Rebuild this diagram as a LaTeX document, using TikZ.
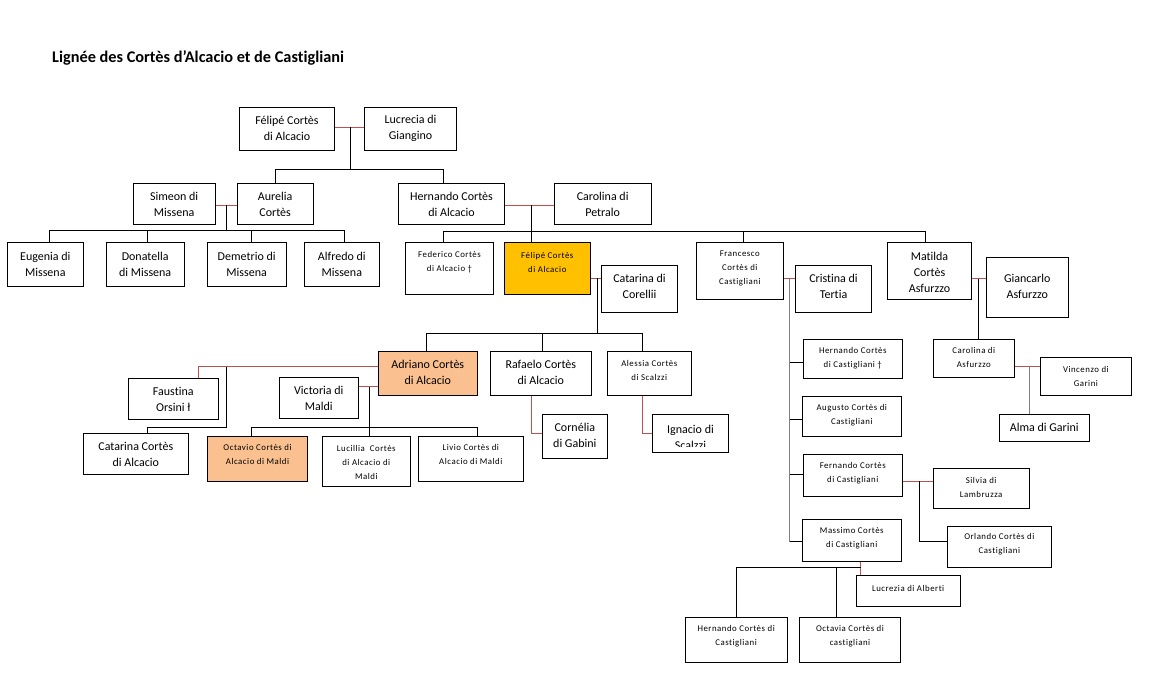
\documentclass[tikz,border=0pt]{standalone}
\usepackage{fontspec}
\setmainfont{Carlito}[Ligatures=NoCommon]
\newfontfamily\smallfnt[LetterSpace=6,Ligatures=NoCommon]{Carlito}
\definecolor{wedred}{RGB}{192,80,77}
\definecolor{yel}{RGB}{255,192,0}
\definecolor{org}{RGB}{250,192,143}
\definecolor{lgrey}{RGB}{128,128,128}
\tikzset{
  pbox/.style={draw=black, line width=1pt, inner sep=0pt, rectangle},
  nt/.style={font={\fontsize{12}{16}\selectfont}, align=center, inner sep=0pt},
  st/.style={font={\smallfnt\fontsize{8.8}{14}\selectfont}, align=center, inner sep=0pt},
  link/.style={draw=black, line width=0.9pt},
  wed/.style={draw=wedred, line width=0.9pt},
  greyl/.style={draw=lgrey, line width=0.9pt},
}
\newcommand\pbx[9]{%
  \node[pbox,#6,minimum width={#4-#2},minimum height={#5-#3}] (#1) at ({(#2+#4)/2},{(#3+#5)/2}) {};
  \node[#7] (#1t) at ({(#2+#4)/2},#8) {#9};
}
\begin{document}
\begin{tikzpicture}[x=1pt,y=-1pt]
\fill[white] (0,0) rectangle (1175,681);
\useasboundingbox (0,0) rectangle (1175,681);

\node[anchor=base west, font={\bfseries\fontsize{16.3}{19}\selectfont}, inner sep=0pt] (title) at (52,62.7) {Lignée des Cortès d’Alcacio et de Castigliani};

\pbx{F0}{239.3}{107.3}{334.7}{150.3}{}{nt}{128}{Félipé Cortès\\di Alcacio}
\pbx{L0}{364.3}{107.3}{456.7}{150.3}{}{nt}{128}{Lucrecia di\\Giangino}
\pbx{S1}{133.3}{183.3}{215}{224}{}{nt}{204}{Simeon di\\Missena}
\pbx{A1}{237}{183.3}{313.3}{224}{}{nt}{204}{Aurelia\\Cortès}
\pbx{H1}{398.3}{183.3}{504.7}{224}{}{nt}{204}{Hernando Cortès\\di Alcacio}
\pbx{C1}{554.3}{183.3}{651}{224}{}{nt}{204}{Carolina di\\Petralo}
\pbx{E2}{7.3}{242.3}{83.3}{286.3}{}{nt}{264}{Eugenia di\\Missena}
\pbx{D2}{106}{242.3}{184.3}{286.3}{}{nt}{264}{Donatella\\di Missena}
\pbx{De2}{207.3}{242.3}{286}{286.3}{}{nt}{264}{Demetrio di\\Missena}
\pbx{Al2}{304.3}{242.3}{379.3}{286.3}{}{nt}{264}{Alfredo di\\Missena}
\pbx{Fe2}{405.7}{242.3}{493.3}{294}{}{st}{262}{Federico Cortès\\di Alcacio †}
\pbx{FA2}{504.3}{242.3}{590.3}{294.3}{fill=yel}{st}{262}{Félipé Cortès\\di Alcacio}
\pbx{Ca2}{601.3}{265.3}{677.7}{312.3}{}{nt}{286}{Catarina di\\Corellii}
\pbx{Fr2}{696.3}{242.3}{783.3}{299.3}{}{st}{268.7}{Francesco\\Cortès di\\Castigliani}
\pbx{Cr2}{795.3}{265.3}{871.7}{312.3}{}{nt}{286.3}{Cristina di\\Tertia}
\pbx{M2}{887.3}{242.7}{971.7}{299.3}{}{nt}{272.6}{Matilda\\Cortès\\Asfurzzo}
\pbx{G2}{986.3}{257.7}{1068.3}{317.3}{}{nt}{286}{Giancarlo\\Asfurzzo}
\pbx{Ad3}{378.3}{351.3}{477.3}{395.3}{fill=org}{nt}{372}{Adriano Cortès\\di Alcacio}
\pbx{R3}{490.3}{351.3}{591.3}{395.3}{}{nt}{372}{Rafaelo Cortès\\di Alcacio}
\pbx{As3}{607.3}{351.3}{691.3}{395.3}{}{st}{370}{Alessia Cortès\\di Scalzzi}
\pbx{Co3}{542.3}{414.3}{607.3}{458}{}{nt}{435.3}{Cornélia\\di Gabini}
\node[pbox, minimum width=75.6, minimum height=38.4] (I3) at (690.5,433.5) {};
\begin{scope}
  \clip (652.7,414.3) rectangle (728.3,446.5);
  \node[nt] (I3t) at (690.5,437) {Ignacio di\\Scalzzi};
\end{scope}
\pbx{Fa3}{128.3}{378.3}{218.3}{419.3}{}{nt}{399}{Faustina\\Orsini ł}
\pbx{Cat3}{83.3}{433.3}{188.3}{474.3}{}{nt}{454.5}{Catarina Cortès\\di Alcacio}
\pbx{V3}{279.3}{377.3}{358.3}{418.3}{}{nt}{398}{Victoria di\\Maldi}
\pbx{O4}{207.3}{436}{307.7}{481.7}{fill=org}{st}{454.8}{Octavio Cortès di\\Alcacio di Maldi}
\pbx{Lu4}{322.3}{436}{410.3}{486.3}{}{st}{462}{Lucillia~ Cortès\\di Alcacio di\\Maldi}
\pbx{Li4}{418.3}{436}{523.3}{481.3}{}{st}{454.8}{Livio Cortès di\\Alcacio di Maldi}
\pbx{HC3}{803.3}{339.3}{902.3}{378.3}{}{st}{357.8}{Hernando Cortès\\di Castigliani †}
\pbx{Au3}{802.3}{396.3}{901.3}{436.3}{}{st}{415}{Augusto Cortès di\\Castigliani}
\pbx{Fn3}{803.3}{454.3}{902.3}{496}{}{st}{473}{Fernando Cortès\\di Castigliani}
\pbx{Ms3}{802.3}{519.3}{901.3}{561}{}{st}{538}{Massimo Cortès\\di Castigliani}
\pbx{Si4}{933}{468.3}{1029.3}{508.3}{}{st}{487}{Silvia di\\Lambruzza}
\pbx{Or4}{947.3}{526.3}{1051.3}{567.3}{}{st}{544.3}{Orlando Cortès di\\Castigliani}
\pbx{Lz4}{856}{575}{960.3}{606}{}{st}{588}{Lucrezia di Alberti}
\pbx{HB4}{685}{617.3}{787.3}{662}{}{st}{636.3}{Hernando Cortès di\\Castigliani}
\pbx{Oc4}{799.3}{617.3}{900.7}{662}{}{st}{636.3}{Octavia Cortès di\\castigliani}
\pbx{CA3}{933.3}{339.3}{1014.3}{377.3}{}{st}{357.8}{Carolina di\\Asfurzzo}
\pbx{Vi4}{1040}{357.3}{1131.7}{395}{}{st}{376}{Vincenzo di\\Garini}
\pbx{Am4}{999.3}{414.3}{1089.3}{441}{}{nt}{427}{Alma di Garini}

% top couple
\coordinate (m0) at (350.7,127.3);
\coordinate (b0) at (350.7,169.3);
\coordinate (h1x) at (443.3,169.3);
\draw[wed] (F0.east |- m0) -- (L0.west |- m0);
\draw[link] (m0) -- (b0);
\draw[link] (A1.north) |- (h1x) -- (H1.north -| h1x);

% Simeon / Aurelia
\coordinate (m1) at (226.7,205);
\coordinate (b1) at (226.7,230);
\coordinate (e2x) at (49.3,230);
\coordinate (d2x) at (147.3,230);
\coordinate (de2x) at (251.3,230);
\coordinate (al2x) at (344,230);
\draw[wed] (S1.east |- m1) -- (A1.west |- m1);
\draw[link] (m1) -- (b1);
\draw[link] (E2.north -| e2x) -- (e2x) -- (al2x) -- (Al2.north -| al2x);
\draw[link] (d2x) -- (D2.north -| d2x);
\draw[link] (de2x) -- (De2.north -| de2x);

% Hernando / Carolina
\coordinate (m2) at (531.7,205);
\coordinate (b2L) at (443.3,231.7);
\coordinate (b2F) at (743.3,231.7);
\coordinate (b2R) at (925,231.7);
\draw[wed] (H1.east |- m2) -- (C1.west |- m2);
\draw[link] (m2) -- (FA2.north -| m2);
\draw[link] (Fe2.north -| b2L) -- (b2L) -- (b2R) -- (M2.north -| b2R);
\draw[link] (b2F) -- (Fr2.north -| b2F);

% Felipe / Catarina
\coordinate (m3) at (597.5,278.3);
\coordinate (b3) at (597.5,333.3);
\coordinate (b3L) at (426,333.3);
\coordinate (b3M) at (542.3,333.3);
\coordinate (b3R) at (642.3,333.3);
\draw[wed] (FA2.east |- m3) -- (Ca2.west |- m3);
\draw[link] (m3) -- (b3);
\draw[link] (Ad3.north -| b3L) -- (b3L) -- (b3R) -- (As3.north -| b3R);
\draw[link] (b3M) -- (R3.north -| b3M);

% Rafaelo / Cornelia, Alessia / Ignacio
\coordinate (k4) at (531.7,433.3);
\coordinate (k5) at (642.7,433.3);
\draw[wed] (R3.south -| k4) -- (k4) -- (Co3.west |- k4);
\draw[wed] (As3.south -| k5) -- (k5) -- (I3.west |- k5);

% Adriano's spouses
\coordinate (k6) at (198.3,366.7);
\coordinate (k7) at (226.7,366.7);
\coordinate (k8) at (226.7,427.3);
\coordinate (k9) at (147.3,427.3);
\draw[wed] (Ad3.west |- k6) -- (k6) -- (Fa3.north -| k6);
\draw[link] (k7) -- (k8) -- (k9) -- (Cat3.north -| k9);
\coordinate (m7) at (369.3,386.7);
\coordinate (b7L) at (251.7,427.3);
\coordinate (b7R) at (477.3,427.3);
\draw[wed] (V3.east |- m7) -- (Ad3.west |- m7);
\draw[link] (m7) -- (Lu4.north -| m7);
\draw[link] (O4.north -| b7L) -- (b7L) -- (b7R) -- (Li4.north -| b7R);

% Francesco / Cristina
\coordinate (m8) at (789.5,278.7);
\coordinate (v1) at (789.5,362.3);
\coordinate (v2) at (789.5,419.3);
\coordinate (v3) at (789.5,474.3);
\coordinate (v4) at (789.5,541.7);
\draw[wed] (Fr2.east |- m8) -- (Cr2.west |- m8);
\draw[greyl] (m8) -- (v4);
\draw[link] (v1) -- (HC3.west |- v1);
\draw[link] (v2) -- (Au3.west |- v2);
\draw[link] (v3) -- (Fn3.west |- v3);
\draw[link] (v4) -- (Ms3.west |- v4);

% Fernando / Silvia
\coordinate (m9) at (919.3,481);
\coordinate (k10) at (919.3,541.7);
\draw[wed] (Fn3.east |- m9) -- (Si4.west |- m9);
\draw[link] (m9) -- (k10) -- (Or4.west |- k10);

% Massimo / Lucrezia
\coordinate (m10) at (860.7,567.3);
\coordinate (k11) at (836,567.3);
\coordinate (k12) at (736.7,567.3);
\draw[wed] (Ms3.south -| m10) -- (Lz4.north -| m10);
\draw[link] (m10) -- (k12) -- (HB4.north -| k12);
\draw[link] (k11) -- (Oc4.north -| k11);

% Matilda / Giancarlo
\coordinate (m11) at (978.3,278.7);
\draw[wed] (M2.east |- m11) -- (G2.west |- m11);
\draw[link] (m11) -- (CA3.north -| m11);

% Carolina / Vincenzo
\coordinate (m12) at (1029.7,366);
\draw[wed] (CA3.east |- m12) -- (Vi4.west |- m12);
\draw[greyl] (m12) -- (Am4.north -| m12);
\end{tikzpicture}
\end{document}
